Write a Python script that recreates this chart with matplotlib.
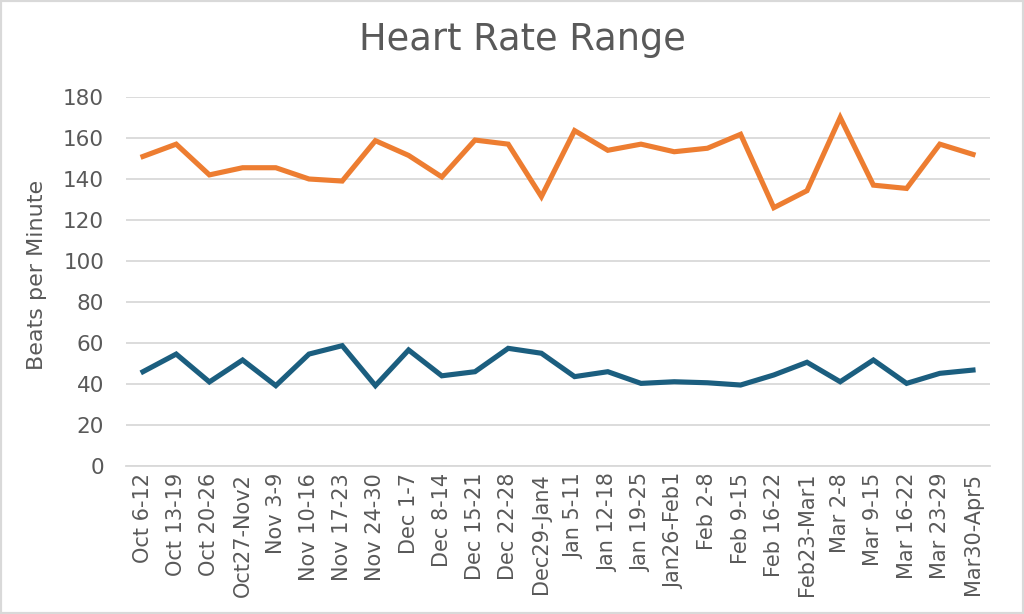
import matplotlib
matplotlib.use("Agg")
import matplotlib.pyplot as plt
from matplotlib.patches import Rectangle

weeks = ["Oct 6-12", "Oct 13-19", "Oct 20-26", "Oct27-Nov2", "Nov 3-9", "Nov 10-16",
         "Nov 17-23", "Nov 24-30", "Dec 1-7", "Dec 8-14", "Dec 15-21", "Dec 22-28",
         "Dec29-Jan4", "Jan 5-11", "Jan 12-18", "Jan 19-25", "Jan26-Feb1", "Feb 2-8",
         "Feb 9-15", "Feb 16-22", "Feb23-Mar1", "Mar 2-8", "Mar 9-15", "Mar 16-22",
         "Mar 23-29", "Mar30-Apr5"]
max_hr = [151, 157, 142, 145.5, 145.5, 140, 139, 158.7, 151.5, 141, 159, 157,
          131.4, 163.6, 154, 157, 153.3, 155, 161.8, 126, 134.3, 170, 137, 135.4,
          157, 152]
min_hr = [46, 54.6, 41, 51.7, 39.2, 54.6, 58.7, 39.2, 56.6, 44, 46, 57.4,
          55, 43.6, 46, 40.3, 41.1, 40.6, 39.5, 44.4, 50.6, 41.1, 51.7, 40.3,
          45.2, 46.8]
y_ticks = [0, 20, 40, 60, 80, 100, 120, 140, 160, 180]

text_color = "#595959"
fig = plt.figure(figsize=(10.24, 6.14), dpi=100)
fig.patches.append(Rectangle((0, 0), 1, 1, transform=fig.transFigure, fill=False,
                             edgecolor="#D9D9D9", linewidth=3, zorder=10))
ax = fig.add_axes([126.4 / 1024, 1 - 466 / 614, (989.6 - 126.4) / 1024, (466 - 97) / 614])

x = list(range(len(weeks)))
ax.plot(x, max_hr, color="#ED7D31", linewidth=3.7, solid_joinstyle="miter", zorder=3)
ax.plot(x, min_hr, color="#1B5E7F", linewidth=3.7, solid_joinstyle="miter", zorder=3)

ax.set_xlim(-0.5, len(weeks) - 0.5)
ax.set_ylim(0, 180)
ax.set_yticks(y_ticks)
ax.set_xticks(x)
ax.set_xticklabels(weeks, rotation=90, fontsize=15, color=text_color)
ax.tick_params(axis="y", length=0, pad=16, labelsize=15.5, labelcolor=text_color)
ax.tick_params(axis="x", length=0, pad=5)
ax.grid(axis="y", color="#D9D9D9", linewidth=1.3)
ax.set_axisbelow(True)
for s in ["top", "right", "left"]:
    ax.spines[s].set_visible(False)
ax.spines["bottom"].set_color("#D9D9D9")
ax.spines["bottom"].set_linewidth(1.3)

fig.text(37 / 1024, 1 - 275 / 614, "Beats per Minute", rotation=90, ha="center",
         va="center", fontsize=16, color=text_color)
fig.text(522 / 1024, 1 - 40 / 614, "Heart Rate Range", ha="center", va="center",
         fontsize=26.5, color=text_color)

fig.savefig("out.png", dpi=100)
